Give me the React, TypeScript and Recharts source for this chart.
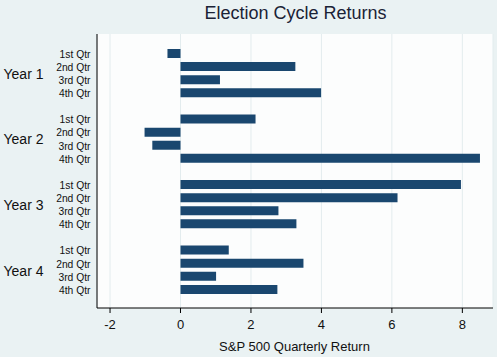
import React from "react";
import { BarChart, Bar, XAxis, YAxis, CartesianGrid } from "recharts";

const years = ["Year 1", "Year 2", "Year 3", "Year 4"];
const quarters = ["1st Qtr", "2nd Qtr", "3rd Qtr", "4th Qtr"];
const year1 = [-0.37, 3.26, 1.12, 3.99];
const year2 = [2.13, -1.02, -0.8, 8.5];
const year3 = [7.96, 6.16, 2.78, 3.29];
const year4 = [1.37, 3.49, 1.01, 2.75];
const xTicks = [-2, 0, 2, 4, 6, 8];

const yearValues = [year1, year2, year3, year4];

type Row = { key: string; year: string; quarter: string; qi: number; value: number | null };
const rows: Row[] = [];
yearValues.forEach((vals, yi) => {
  if (yi > 0) rows.push({ key: "gap" + yi, year: "", quarter: "", qi: -1, value: null });
  vals.forEach((v, qi) => {
    rows.push({ key: `y${yi + 1}q${qi + 1}`, year: years[yi], quarter: quarters[qi], qi, value: v });
  });
});

const FONT = "Arial, 'Liberation Sans', Helvetica, sans-serif";
const BG = "#eaf2f3";
const BAR = "#1a476f";

const YTick = (props: any) => {
  const { x, y, payload } = props;
  const row = rows.find((r) => r.key === payload.value);
  if (!row || row.qi < 0) return null;
  return (
    <g>
      <text x={x + 0.5} y={y} dy={4.3} textAnchor="end" fontSize={10.3} fill="#111" fontFamily={FONT}>
        {row.quarter}
      </text>
      {row.qi === 1 && (
        <text x={x - 86.5} y={y} dy={12.3} textAnchor="start" fontSize={14} fill="#111" fontFamily={FONT}>
          {row.year}
        </text>
      )}
    </g>
  );
};

export default function App() {
  return (
    <div style={{ position: "absolute", left: 0, top: 0, width: 497, height: 357, background: BG }}>
      <BarChart
        width={497}
        height={357}
        data={rows}
        layout="vertical"
        margin={{ top: 34, right: 4, bottom: 19, left: 0 }}
        style={{ fontFamily: FONT }}
      >
        <CartesianGrid horizontal={false} stroke="#e3ecee" fill="#fcfdfd" />
        <XAxis
          type="number"
          domain={[-2.37, 8.87]}
          ticks={xTicks}
          allowDataOverflow
          axisLine={{ stroke: "#000" }}
          tickLine={{ stroke: "#000" }}
          tickSize={5}
          tickMargin={7}
          height={30}
          tick={{ fontSize: 13, fill: "#111", fontFamily: FONT }}
        />
        <YAxis
          type="category"
          dataKey="key"
          width={97}
          interval={0}
          padding={{ top: 13, bottom: 12 }}
          axisLine={{ stroke: "#000" }}
          tickLine={false}
          tickSize={5}
          tickMargin={2}
          tick={<YTick />}
        />
        <Bar dataKey="value" fill={BAR} barSize={9} isAnimationActive={false} />
        <text x={295.5} y={18.5} textAnchor="middle" fontSize={18} fill="#1a2236" fontFamily={FONT}>
          Election Cycle Returns
        </text>
        <text x={294.5} y={351} textAnchor="middle" fontSize={13} fill="#111" fontFamily={FONT}>
          S&amp;P 500 Quarterly Return
        </text>
      </BarChart>
    </div>
  );
}
